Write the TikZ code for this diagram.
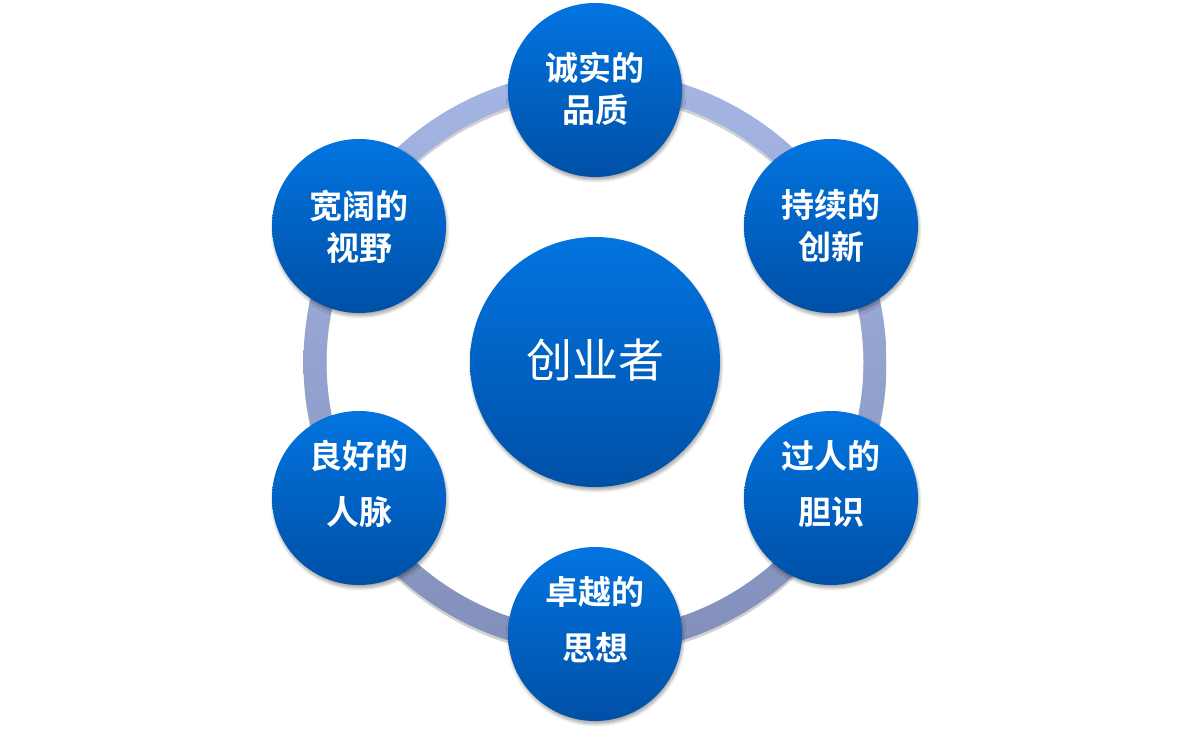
\documentclass[tikz,border=0pt]{standalone}
\usepackage{fontspec}
\newfontfamily\cjk{Noto Sans CJK SC}
\newfontfamily\cjkb{Noto Sans CJK SC Bold}
\usetikzlibrary{shadows,shadows.blur}
\definecolor{bluetop}{RGB}{2,116,224}
\definecolor{bluebot}{RGB}{0,80,166}
\definecolor{ringtop}{RGB}{166,182,228}
\definecolor{ringbot}{RGB}{130,143,186}
\tikzset{
  bubble/.style={circle, minimum size=174pt, inner sep=0pt, draw=none,
    top color=bluetop, bottom color=bluebot,
    blur shadow={shadow xshift=1pt, shadow yshift=-3pt, shadow blur steps=6, shadow opacity=35, shadow blur radius=3pt}},
  hub/.style={bubble, minimum size=250pt},
  lbl/.style={text=white, align=center, font=\cjkb\fontsize{33}{41.5}\selectfont},
  lbll/.style={text=white, align=center, font=\cjkb\fontsize{33}{56}\selectfont},
  hubtext/.style={text=white, font=\cjk\fontsize{46}{50}\selectfont}
}
\begin{document}
\begin{tikzpicture}[x=1pt,y=-1pt]
\useasboundingbox (0,0) rectangle (1191,735);
\coordinate (c) at (595,362);
% ring shadow and ring
\fill[black, opacity=0.18, even odd rule] ([yshift=-3pt]c) circle (291.5pt) ([yshift=-3pt]c) circle (268.5pt);
\shade[top color=ringtop, bottom color=ringbot, even odd rule] (c) circle (291.5pt) (c) circle (268.5pt);
% hub
\node[hub] (hub) at (c) {};
\node[hubtext] (hubt) at (595,360) {创业者};
% bubbles
\node[bubble] (n1) at (595,90) {};
\node[bubble] (n2) at (831,226) {};
\node[bubble] (n3) at (831,498) {};
\node[bubble] (n4) at (595,634) {};
\node[bubble] (n5) at (359,498) {};
\node[bubble] (n6) at (359,226) {};
\node[lbl]  (t1) at (595,89)  {诚实的\\品质};
\node[lbl]  (t2) at (831,226) {持续的\\创新};
\node[lbll] (t3) at (831,484) {过人的\\胆识};
\node[lbll] (t4) at (595,620) {卓越的\\思想};
\node[lbll] (t5) at (359,484) {良好的\\人脉};
\node[lbl]  (t6) at (359,227) {宽阔的\\视野};
\end{tikzpicture}
\end{document}
